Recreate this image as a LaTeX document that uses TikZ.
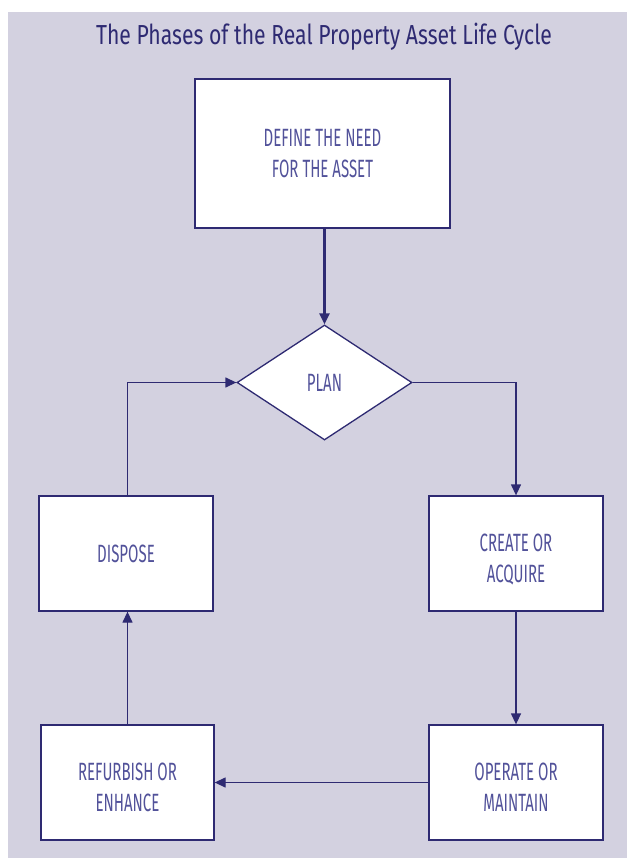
\documentclass[tikz,border=0pt]{standalone}
\usepackage{fontspec}
\setmainfont{Fira Sans}
\newfontfamily\titlefont{Fira Sans}[FakeStretch=0.77]
\newfontfamily\boxfont{Fira Sans}[FakeStretch=0.6]
\usetikzlibrary{arrows.meta,shapes.geometric}
\definecolor{bg}{HTML}{D3D1E0}
\definecolor{navy}{HTML}{2E2A72}
\definecolor{txt}{HTML}{52529A}
\newcommand{\twolines}[2]{\raisebox{-14pt}[0pt][0pt]{\begin{tabular}{@{}c@{}}#1\\#2\end{tabular}}}
\tikzset{
  stepbox/.style={draw=navy, line width=1.3pt, fill=white, inner sep=0pt, text=txt,
    font=\boxfont\fontsize{25}{31}\selectfont, align=center},
  decision/.style={diamond, draw=navy, line width=1.3pt, fill=white, inner sep=0pt, text=txt,
    font=\boxfont\fontsize{25}{31}\selectfont},
  flow/.style={draw=navy, line width=1.3pt, -{Triangle[length=11pt,width=10pt]}},
}
\begin{document}
\begin{tikzpicture}[x=1pt,y=-1pt]
\useasboundingbox (0,0) rectangle (627,861);
\fill[bg] (8,12) rectangle (627,858);
\node[text=navy, font=\titlefont\fontsize{27.5}{30}\selectfont] (title) at (324,37) {The Phases of the Real Property Asset Life Cycle};
\node[stepbox, minimum width=255pt, minimum height=149pt] (define) at (322.5,153.5) {DEFINE THE NEED\\FOR THE ASSET};
\node[decision, minimum width=175pt, minimum height=115pt] (plan) at (324.5,382.5) {PLAN};
\node[stepbox, minimum width=174pt, minimum height=115pt] (create) at (516,553.5) {\twolines{CREATE OR}{ACQUIRE}};
\node[stepbox, minimum width=174pt, minimum height=115pt] (operate) at (516,782.5) {\twolines{OPERATE OR}{MAINTAIN}};
\node[stepbox, minimum width=173pt, minimum height=115pt] (refurb) at (127.5,782.5) {\twolines{REFURBISH OR}{ENHANCE}};
\node[stepbox, minimum width=174pt, minimum height=115pt] (dispose) at (126,553.5) {DISPOSE};
\draw[flow, line width=2.6pt] (define.south -| plan.north) -- (plan.north);
\draw[flow] (plan.east) -| (create.north);
\draw[flow] (create.south) -- (operate.north);
\draw[flow] (operate.west) -- (refurb.east);
\draw[flow] (refurb.north) -- (refurb.north |- dispose.south);
\draw[flow] (dispose.north -| refurb.north) |- (plan.west);
\end{tikzpicture}
\end{document}
